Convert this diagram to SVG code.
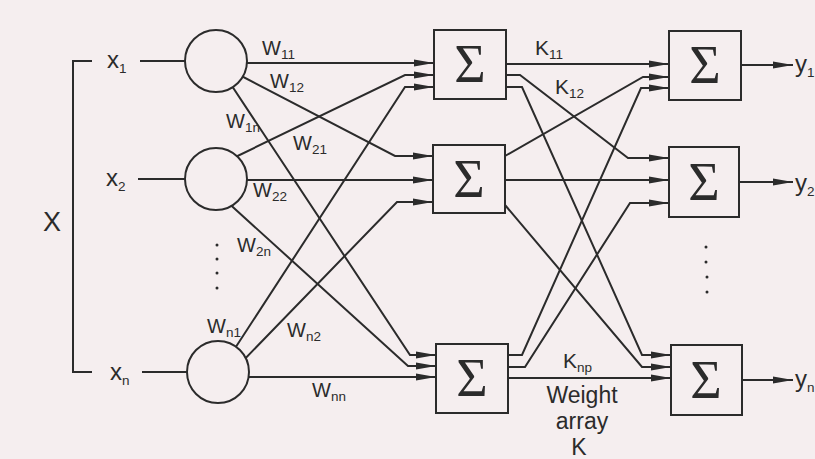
<svg xmlns="http://www.w3.org/2000/svg" width="815" height="459" viewBox="0 0 815 459">
<defs>
<marker id="ah" markerWidth="20" markerHeight="8" refX="20" refY="4" orient="auto" markerUnits="userSpaceOnUse"><path d="M0,0.6 L20,4 L0,7.4 z" fill="#2b2b2b"/></marker>
<style>
.ln{fill:none;stroke:#2b2b2b;stroke-width:2}
.ar{fill:none;stroke:#2b2b2b;stroke-width:2;marker-end:url(#ah)}
.nd{fill:#f5eeef;stroke:#2b2b2b;stroke-width:2}
.t{font-family:"Liberation Sans",Arial,sans-serif;fill:#2b2b2b}
.w{font-size:20px}
.s{font-size:13.5px}
.x{font-size:24px}
.sg{font-family:"Liberation Serif","Times New Roman",serif;font-size:54px;fill:#2b2b2b;text-anchor:middle}
.big{font-size:23px;text-anchor:middle}
.dot{fill:#2b2b2b}
</style>
</defs>
<rect width="815" height="459" fill="#f5eeef"/>
<g id="connectors">
<path class="ln" d="M92,61 H73 V372 H92"/>
<path class="ln" d="M140,61 H200"/>
<path class="ln" d="M138,179 H200"/>
<path class="ln" d="M142,372 H200"/>
<path class="ar" d="M216,63 H434"/>
<path class="ar" d="M230,70 L395,156 H433"/>
<path class="ar" d="M226,77 L410,355 H436"/>
<path class="ar" d="M225,162 L405,75 H434"/>
<path class="ar" d="M216,180 H433"/>
<path class="ar" d="M224,199 L408,366 H436"/>
<path class="ar" d="M228,359 L405,87 H434"/>
<path class="ar" d="M238,366 L397,202 H433"/>
<path class="ar" d="M218,377 H436"/>
<path class="ar" d="M506,64 H669"/>
<path class="ar" d="M506,75 H520 L628,158 H669"/>
<path class="ar" d="M506,87 H522 L642,355 H671"/>
<path class="ar" d="M505,156 L643,77 H669"/>
<path class="ar" d="M505,180 H669"/>
<path class="ar" d="M505,205 L642,367 H671"/>
<path class="ar" d="M508,355 H522 L641,88 H669"/>
<path class="ar" d="M508,367 H525 L630,203 H669"/>
<path class="ar" d="M508,378 H671"/>
<path class="ar" d="M741,65 H793"/>
<path class="ar" d="M739,182 H793"/>
<path class="ar" d="M742,380 H793"/>
</g>
<g id="n1"><circle class="nd" cx="216" cy="61" r="31"/></g>
<g id="n2"><circle class="nd" cx="216" cy="179" r="31"/></g>
<g id="nn"><circle class="nd" cx="218" cy="372" r="31"/></g>
<g id="s1"><rect class="nd" x="434" y="30" width="72" height="69"/><text class="sg" x="470" y="82">Σ</text></g>
<g id="s2"><rect class="nd" x="433" y="145" width="72" height="68"/><text class="sg" x="469" y="197">Σ</text></g>
<g id="sn"><rect class="nd" x="436" y="344" width="72" height="69"/><text class="sg" x="472" y="396">Σ</text></g>
<g id="r1"><rect class="nd" x="669" y="31" width="72" height="69"/><text class="sg" x="705" y="83">Σ</text></g>
<g id="r2"><rect class="nd" x="669" y="147" width="70" height="70"/><text class="sg" x="704" y="200">Σ</text></g>
<g id="rn"><rect class="nd" x="671" y="345" width="71" height="70"/><text class="sg" x="706" y="398">Σ</text></g>
<g id="dots">
<circle class="dot" cx="217" cy="245" r="1.5"/><circle class="dot" cx="217" cy="259" r="1.5"/><circle class="dot" cx="217" cy="273" r="1.5"/><circle class="dot" cx="217" cy="288" r="1.5"/>
<circle class="dot" cx="706" cy="247" r="1.5"/><circle class="dot" cx="706" cy="262" r="1.5"/><circle class="dot" cx="707" cy="277" r="1.5"/><circle class="dot" cx="707" cy="292" r="1.5"/>
</g>
<g id="labels">
<text class="t" x="43" y="231" font-size="27">X</text>
<text class="t x" x="107" y="68">x<tspan class="s" dy="5">1</tspan></text>
<text class="t x" x="106" y="186">x<tspan class="s" dy="5">2</tspan></text>
<text class="t x" x="110" y="380">x<tspan class="s" dy="5">n</tspan></text>
<text class="t w" x="262" y="55">W<tspan class="s" dy="4">11</tspan></text>
<text class="t w" x="270" y="88">W<tspan class="s" dy="4">12</tspan></text>
<text class="t w" x="226" y="128">W<tspan class="s" dy="4">1n</tspan></text>
<text class="t w" x="293" y="150">W<tspan class="s" dy="4">21</tspan></text>
<text class="t w" x="253" y="197">W<tspan class="s" dy="4">22</tspan></text>
<text class="t w" x="237" y="252">W<tspan class="s" dy="4">2n</tspan></text>
<text class="t w" x="207" y="333">W<tspan class="s" dy="4">n1</tspan></text>
<text class="t w" x="287" y="337">W<tspan class="s" dy="4">n2</tspan></text>
<text class="t w" x="312" y="397">W<tspan class="s" dy="4">nn</tspan></text>
<text class="t" x="535" y="55" font-size="21">K<tspan class="s" dy="4">11</tspan></text>
<text class="t" x="555" y="94" font-size="21">K<tspan class="s" dy="4">12</tspan></text>
<text class="t" x="563" y="368" font-size="21">K<tspan class="s" dy="4">np</tspan></text>
<text class="t big" x="582" y="403">Weight</text>
<text class="t big" x="582" y="429">array</text>
<text class="t big" x="579" y="455">K</text>
<text class="t x" x="795" y="72">y<tspan class="s" dy="5">1</tspan></text>
<text class="t x" x="795" y="191">y<tspan class="s" dy="5">2</tspan></text>
<text class="t x" x="795" y="387">y<tspan class="s" dy="5">n</tspan></text>
</g>
</svg>
